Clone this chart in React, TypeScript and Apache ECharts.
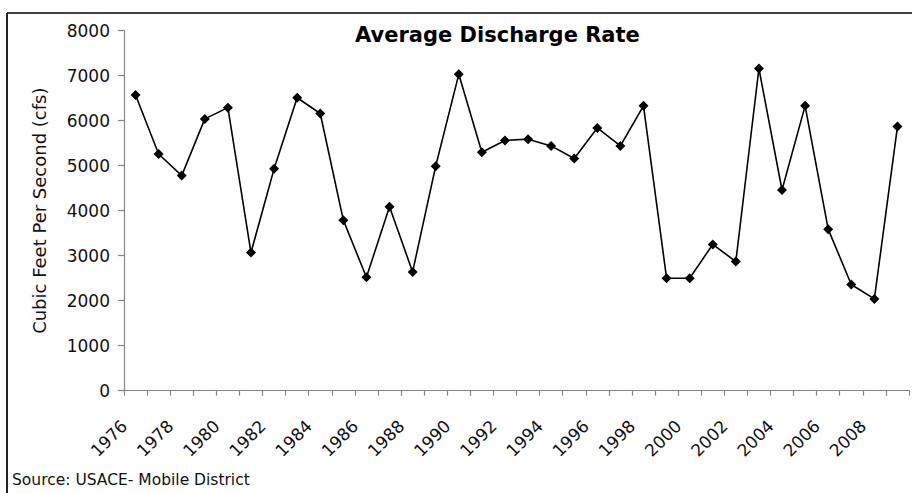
import React, { useEffect, useRef } from "react";
import * as echarts from "echarts";

const years = [
  "1976", "1977", "1978", "1979", "1980", "1981", "1982", "1983", "1984", "1985",
  "1986", "1987", "1988", "1989", "1990", "1991", "1992", "1993", "1994", "1995",
  "1996", "1997", "1998", "1999", "2000", "2001", "2002", "2003", "2004", "2005",
  "2006", "2007", "2008", "2009",
];

const discharge = [
  6570, 5260, 4780, 6040, 6290, 3070, 4930, 6510, 6160, 3790,
  2520, 4090, 2640, 4990, 7030, 5300, 5560, 5590, 5440, 5160,
  5840, 5440, 6330, 2500, 2500, 3250, 2870, 7160, 4460, 6330,
  3590, 2360, 2040, 5870,
];

const titleText = "Average Discharge Rate";
const yAxisName = "Cubic Feet Per Second (cfs)";
const sourceText = "Source: USACE- Mobile District";

export default function App() {
  const ref = useRef<HTMLDivElement>(null);

  useEffect(() => {
    document.body.style.margin = "0";
    const chart = echarts.init(ref.current!, null, { renderer: "svg" });
    chart.setOption({
      animation: false,
      backgroundColor: "#ffffff",
      textStyle: { fontFamily: "DejaVu Sans" },
      title: {
        text: titleText,
        left: 355,
        top: 24,
        padding: 0,
        textStyle: {
          fontFamily: "DejaVu Sans",
          fontWeight: "bold",
          fontSize: 21,
          color: "#000",
        },
      },
      grid: { left: 124, right: 3, top: 30.7, bottom: 102.3, containLabel: false },
      xAxis: {
        type: "category",
        data: years,
        boundaryGap: true,
        axisLine: { show: true, onZero: false, lineStyle: { color: "#868686", width: 1.2 } },
        axisTick: { show: true, interval: 0, length: 5, lineStyle: { color: "#868686", width: 1.2 } },
        axisLabel: {
          interval: 1,
          rotate: 45,
          fontSize: 17,
          fontFamily: "DejaVu Sans",
          color: "#111",
          margin: 21,
          padding: [0, 16, 0, 0],
        },
        splitLine: { show: false },
      },
      yAxis: {
        type: "value",
        min: 0,
        max: 8000,
        interval: 1000,
        name: yAxisName,
        nameLocation: "middle",
        nameGap: 76,
        nameTextStyle: { fontSize: 18, color: "#111", fontFamily: "DejaVu Sans" },
        axisLine: { show: true, lineStyle: { color: "#868686", width: 1.2 } },
        axisTick: { show: true, length: 6, lineStyle: { color: "#868686", width: 1.2 } },
        axisLabel: {
          fontSize: 17,
          margin: 14,
          color: "#111",
          fontFamily: "DejaVu Sans",
          formatter: (v: number) => String(v),
        },
        splitLine: { show: false },
      },
      series: [
        {
          type: "line",
          data: discharge,
          symbol: "diamond",
          symbolSize: 10,
          lineStyle: { color: "#000", width: 1.6 },
          itemStyle: { color: "#000" },
        },
      ],
      graphic: [
        {
          type: "line",
          shape: { x1: 7, y1: 13, x2: 912, y2: 13 },
          style: { stroke: "#444", lineWidth: 2 },
        },
        {
          type: "line",
          shape: { x1: 7, y1: 13, x2: 7, y2: 493 },
          style: { stroke: "#222", lineWidth: 2 },
        },
        {
          type: "text",
          left: 12,
          top: 472,
          style: {
            text: sourceText,
            font: "15.5px 'DejaVu Sans'",
            fill: "#111",
          },
        },
      ],
    });
    return () => chart.dispose();
  }, []);

  return <div ref={ref} style={{ width: 912, height: 493 }} />;
}
